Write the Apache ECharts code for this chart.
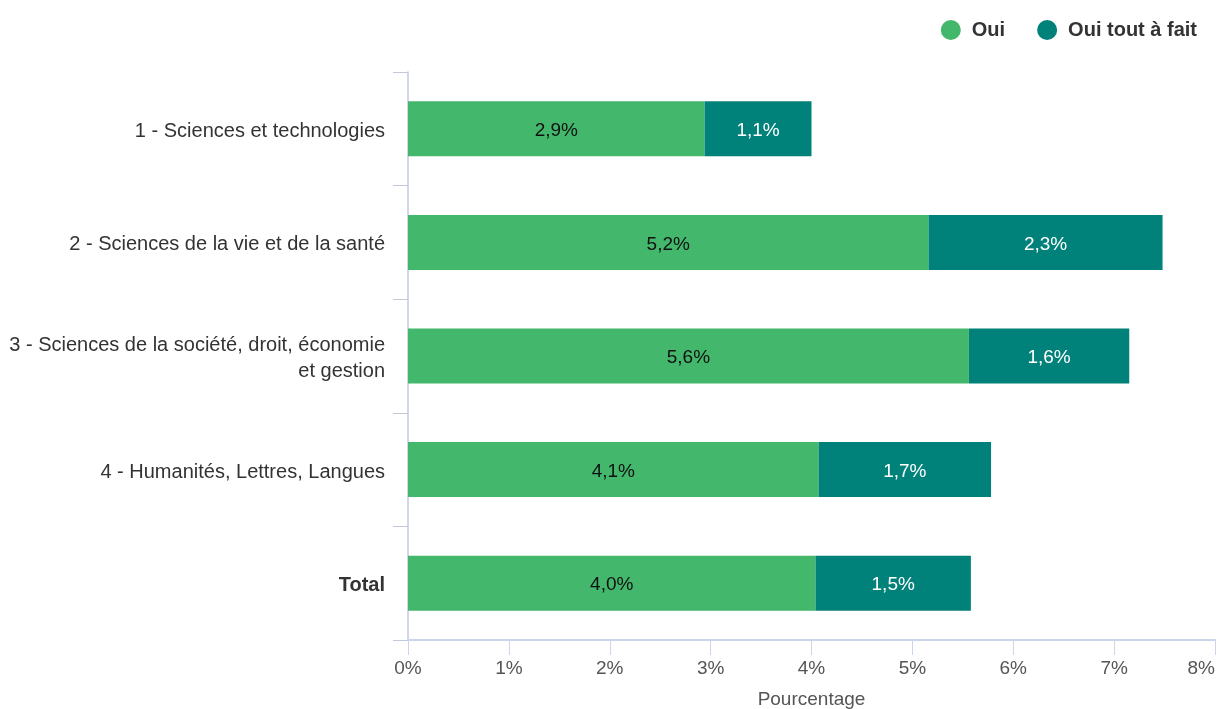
<!DOCTYPE html>
<html>
<head>
<meta charset="utf-8">
<script src="https://cdn.jsdelivr.net/npm/echarts@6/dist/echarts.min.js"></script>
<style>
html,body{margin:0;padding:0;background:#fff;}
#chart{width:1217px;height:709px;}
</style>
</head>
<body>
<div id="chart"></div>
<script>
const categories = [
  "1 - Sciences et technologies",
  "2 - Sciences de la vie et de la santé",
  "3 - Sciences de la société, droit, économie\net gestion",
  "4 - Humanités, Lettres, Langues",
  "Total"
];
const seriesNames = ["Oui", "Oui tout à fait"];
const ouiValues = [2.94, 5.16, 5.56, 4.07, 4.04];
const toutAFaitValues = [1.06, 2.32, 1.59, 1.71, 1.54];
const xTicks = [0, 1, 2, 3, 4, 5, 6, 7, 8];

const FONT = "Arial, 'Liberation Sans', sans-serif";
const fmt = v => v.toFixed(1).replace('.', ',') + '%';

const chart = echarts.init(document.getElementById('chart'), null, {renderer: 'canvas'});
chart.setOption({
  animation: false,
  textStyle: {fontFamily: FONT},
  legend: {
    top: 15,
    right: 15,
    icon: 'circle',
    itemWidth: 32,
    itemHeight: 20,
    itemGap: 32,
    textStyle: {fontFamily: FONT, fontSize: 20, fontWeight: 'bold', color: '#333'},
    data: seriesNames
  },
  grid: {left: 408, right: 2, top: 72, bottom: 69, containLabel: false, outerBoundsMode: 'none'},
  xAxis: {
    type: 'value',
    min: xTicks[0],
    max: xTicks[xTicks.length - 1],
    interval: 1,
    name: 'Pourcentage',
    nameLocation: 'middle',
    nameGap: 50,
    nameTextStyle: {fontFamily: FONT, fontSize: 19, color: '#555'},
    axisLine: {show: true, lineStyle: {color: '#ccd6eb', width: 2}},
    axisTick: {show: true, length: 15, lineStyle: {color: '#ccd6eb', width: 1}},
    axisLabel: {fontFamily: FONT, fontSize: 19, color: '#555', margin: 19, alignMaxLabel: 'right', formatter: v => v + '%'},
    splitLine: {show: false}
  },
  yAxis: {
    type: 'category',
    inverse: true,
    data: categories,
    axisLine: {show: true, lineStyle: {color: '#c0c8da', width: 1.5}},
    axisTick: {show: true, length: 15, lineStyle: {color: '#c0c8da', width: 1}},
    axisLabel: {
      fontFamily: FONT, fontSize: 20, color: '#333', margin: 23, align: 'right', lineHeight: 26,
      padding: [5, 0, 0, 0],
      formatter: v => v === 'Total' ? '{b|' + v + '}' : v,
      rich: {b: {fontFamily: FONT, fontSize: 20, fontWeight: 'bold', color: '#333'}}
    }
  },
  series: [
    {
      name: seriesNames[0],
      type: 'bar',
      stack: 'total',
      barWidth: 55,
      data: ouiValues,
      itemStyle: {color: '#43b76b'},
      label: {show: true, position: 'inside', offset: [0, 2], fontFamily: FONT, fontSize: 19, color: '#111', formatter: p => fmt(p.value)},
      emphasis: {disabled: true}
    },
    {
      name: seriesNames[1],
      type: 'bar',
      stack: 'total',
      barWidth: 55,
      data: toutAFaitValues,
      itemStyle: {color: '#008179'},
      label: {show: true, position: 'inside', offset: [0, 2], fontFamily: FONT, fontSize: 19, color: '#fff', formatter: p => fmt(p.value)},
      emphasis: {disabled: true}
    }
  ]
});
</script>
</body>
</html>
